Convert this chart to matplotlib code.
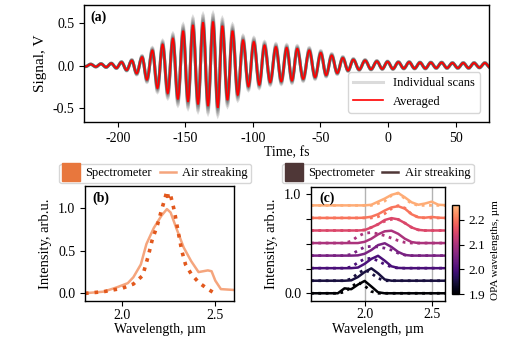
import numpy as np
import matplotlib
matplotlib.use('Agg')
import matplotlib.pyplot as plt
from matplotlib.lines import Line2D
from matplotlib.path import Path
from matplotlib.patches import PathPatch
from matplotlib.colors import ListedColormap, Normalize
from matplotlib.cm import ScalarMappable

plt.rcParams['font.family'] = 'serif'
plt.rcParams['font.serif'] = ['Liberation Serif', 'DejaVu Serif']
plt.rcParams['font.size'] = 10
plt.rcParams['legend.fontsize'] = 9
plt.rcParams['axes.unicode_minus'] = False
plt.rcParams['axes.linewidth'] = 1.0

# ---- (a) scan: extrema of the averaged trace (time fs, signal V)
ext_t = [-227.6, -223.8, -220.0, -216.2, -212.4, -208.6, -204.8, -201.0, -197.2, -193.4,
         -189.6, -186.0, -182.0, -178.4, -174.4, -170.6, -166.8, -163.0, -159.2, -155.5,
         -151.6, -148.0, -144.4, -140.6, -136.9, -133.2, -129.5, -126.0, -122.6, -118.8,
         -115.1, -111.2, -107.3, -103.3, -99.3, -95.3, -91.4, -87.2, -83.0, -79.0,
         -75.0, -71.1, -67.2, -62.8, -58.3, -54.0, -49.8, -45.8, -41.7, -37.6,
         -33.5, -29.6, -25.7, -21.4, -17.0, -12.6, -8.3, -4.3, -0.4, 3.6,
         7.6, 11.6, 15.6, 19.6, 23.6, 27.6, 31.6, 35.6, 39.6, 43.6,
         47.6, 51.6, 55.6, 59.6, 63.6, 67.6, 71.6, 75.6, 79.6]
ext_v = [0.01, -0.012, 0.015, -0.015, 0.02, -0.02, 0.025, -0.03, 0.04, -0.055,
         0.06, -0.095, 0.10, -0.17, 0.18, -0.27, 0.25, -0.33, 0.32, -0.40,
         0.41, -0.43, 0.48, -0.46, 0.51, -0.48, 0.52, -0.50, 0.47, -0.41,
         0.41, -0.35, 0.30, -0.25, 0.28, -0.23, 0.24, -0.20, 0.22, -0.19,
         0.21, -0.18, 0.20, -0.16, 0.18, -0.14, 0.15, -0.115, 0.12, -0.09,
         0.09, -0.06, 0.07, -0.05, 0.06, -0.045, 0.05, -0.04, 0.045, -0.04,
         0.04, -0.035, 0.04, -0.035, 0.035, -0.035, 0.035, -0.03, 0.035, -0.03,
         0.03, -0.03, 0.03, -0.03, 0.03, -0.025, 0.03, -0.025, 0.025]
# spread of the individual scans relative to the average
scan_gain = [0.82, 0.88, 0.93, 0.97, 1.0, 1.03, 1.07, 1.12, 1.18]

# ---- (b) spectra
spec_wl = [1.80, 1.85, 1.90, 1.95, 2.00, 2.06, 2.11, 2.14, 2.16, 2.19, 2.21, 2.23,
           2.24, 2.25, 2.26, 2.28, 2.30, 2.32, 2.34, 2.37, 2.41, 2.46, 2.49]
spec_val = [0.00, 0.01, 0.02, 0.04, 0.06, 0.11, 0.21, 0.44, 0.62, 0.81, 0.97, 1.12,
            1.20, 1.11, 1.15, 0.97, 0.73, 0.50, 0.34, 0.23, 0.13, 0.05, 0.01]
air_wl = [1.79, 1.90, 1.97, 2.03, 2.06, 2.10, 2.13, 2.17, 2.21, 2.24, 2.26, 2.29,
          2.33, 2.37, 2.41, 2.46, 2.48, 2.50, 2.53, 2.60]
air_val = [0.00, 0.02, 0.07, 0.12, 0.19, 0.34, 0.58, 0.77, 0.91, 0.99, 0.95, 0.77,
           0.54, 0.38, 0.25, 0.27, 0.26, 0.15, 0.05, 0.04]

# ---- (c) OPA tuning, normalised spectra
opa_wl = [1.90, 1.95, 2.00, 2.05, 2.10, 2.15, 2.20, 2.25]
wl_c = [1.60, 1.65, 1.70, 1.75, 1.80, 1.85, 1.90, 1.95, 2.00, 2.05, 2.10,
        2.15, 2.20, 2.25, 2.30, 2.35, 2.40, 2.45, 2.50, 2.55, 2.60]
air_c = [
    [0, 0, 0, 0, 0, 0.40, 0.33, 0.70, 1.00, 0.55, 0.08, 0, 0, 0, 0, 0, 0, 0, 0, 0, 0],
    [0, 0, 0, 0, 0, 0, 0.03, 0.30, 0.70, 1.00, 0.60, 0.10, 0, 0, 0, 0, 0, 0, 0, 0, 0],
    [0, 0, 0, 0, 0, 0, 0, 0.05, 0.35, 0.75, 1.00, 0.60, 0.15, 0.02, 0, 0, 0, 0, 0, 0, 0],
    [0, 0, 0, 0, 0, 0, 0, 0.02, 0.15, 0.45, 0.85, 1.00, 0.70, 0.30, 0.05, 0, 0, 0, 0, 0, 0],
    [0, 0, 0, 0, 0, 0, 0, 0, 0.10, 0.35, 0.70, 0.95, 1.00, 0.75, 0.35, 0.08, 0, 0, 0, 0, 0],
    [0, 0, 0, 0, 0, 0, 0, 0, 0.03, 0.25, 0.50, 0.85, 1.00, 0.90, 0.60, 0.25, 0.05, 0, 0, 0, 0],
    [0, 0, 0, 0, 0, 0, 0, 0, 0.02, 0.10, 0.30, 0.60, 0.85, 0.95, 0.75, 0.30, 0.05, 0.02, 0.08, 0.02, 0],
    [0, 0, 0, 0, 0, 0, 0, 0, 0, 0.05, 0.30, 0.55, 0.85, 1.00, 0.65, 0.25, 0.05, 0.15, 0.30, 0.05, 0.02],
]
spec_c = [
    [0, 0, 0, 0, 0, 0.10, 0.50, 0.90, 0.60, 0.15, 0, 0, 0, 0, 0, 0, 0, 0, 0, 0, 0],
    [0, 0, 0, 0, 0, 0, 0.15, 0.60, 0.90, 0.60, 0.20, 0, 0, 0, 0, 0, 0, 0, 0, 0, 0],
    [0, 0, 0, 0, 0, 0, 0.10, 0.45, 0.75, 0.80, 0.60, 0.30, 0.10, 0, 0, 0, 0, 0, 0, 0, 0],
    [0, 0, 0, 0, 0, 0, 0.10, 0.40, 0.70, 0.75, 0.70, 0.60, 0.45, 0.20, 0.05, 0, 0, 0, 0, 0, 0],
    [0, 0, 0, 0, 0, 0, 0.15, 0.55, 0.80, 0.85, 0.75, 0.60, 0.40, 0.20, 0.05, 0, 0, 0, 0, 0, 0],
    [0, 0, 0, 0, 0, 0, 0, 0, 0.05, 0.25, 0.50, 0.75, 0.90, 0.90, 0.60, 0.25, 0.05, 0, 0, 0, 0],
    [0, 0, 0, 0, 0, 0, 0, 0, 0, 0, 0.10, 0.35, 0.75, 1.00, 0.80, 0.30, 0.05, 0, 0, 0, 0],
    [0, 0, 0, 0, 0, 0, 0, 0, 0, 0, 0.15, 0.35, 0.80, 1.00, 0.55, 0.15, 0, 0, 0, 0, 0],
]


def smooth_trace(t, v):
    # cubic Bezier through the extrema, flat at each extremum
    verts = [(t[0], v[0])]
    codes = [Path.MOVETO]
    for i in range(len(t) - 1):
        dt = t[i + 1] - t[i]
        verts += [(t[i] + 0.36 * dt, v[i]), (t[i + 1] - 0.36 * dt, v[i + 1]),
                  (t[i + 1], v[i + 1])]
        codes += [Path.CURVE4] * 3
    return Path(verts, codes)


fig = plt.figure(figsize=(5.28, 3.39), dpi=100)

# ================= (a)
ax_a = fig.add_axes([0.159, 0.640, 0.768, 0.346])
avg = np.array(ext_v)
for g in scan_gain:
    ax_a.add_patch(PathPatch(smooth_trace(ext_t, avg * g), fill=False,
                             edgecolor='0.3', alpha=0.2, lw=2.2))
ax_a.add_patch(PathPatch(smooth_trace(ext_t, avg), fill=False, edgecolor='red', lw=1.2))
ax_a.set_xlim(-225, 75)
ax_a.set_ylim(-0.67, 0.72)
ax_a.set_xticks([-200, -150, -100, -50, 0, 50])
ax_a.set_yticks([-0.5, 0.0, 0.5])
ax_a.set_xlabel('Time, fs', labelpad=1)
ax_a.set_ylabel('Signal, V', fontsize=11)
ax_a.text(0.017, 0.95, '(a)', transform=ax_a.transAxes, va='top', fontweight='bold')
ha = [Line2D([], [], color='0.3', alpha=0.2, lw=2.2), Line2D([], [], color='red', lw=1.2)]
ax_a.legend(ha, ['Individual scans', 'Averaged'], loc='lower right',
            borderaxespad=0.75, handlelength=2.4)

# ================= (b)
ax_b = fig.add_axes([0.161, 0.112, 0.282, 0.339])
c_patch = '#e8773d'
ax_b.plot(air_wl, air_val, color='#f5a57d', lw=1.8)
ax_b.plot(spec_wl, spec_val, color='#e2581d', lw=2.6, ls=':')
ax_b.set_xlim(1.8, 2.6)
ax_b.set_ylim(-0.09, 1.26)
ax_b.set_xticks([2.0, 2.5])
ax_b.set_yticks([0.0, 0.5, 1.0])
ax_b.tick_params(axis='x', pad=2)
ax_b.set_xlabel('Wavelength, µm', labelpad=1)
ax_b.set_ylabel('Intensity, arb.u.', fontsize=10.5)
ax_b.text(0.047, 0.95, '(b)', transform=ax_b.transAxes, va='top', fontweight='bold')
hb = [Line2D([], [], marker='s', ms=13, ls='none', color=c_patch),
      Line2D([], [], color='#f5a57d', lw=1.8)]
ax_b.legend(hb, ['Spectrometer', 'Air streaking'], ncol=2, loc='lower center',
            bbox_to_anchor=(0.473, 1.026), borderaxespad=0, handlelength=1.3,
            handletextpad=0.5, columnspacing=0.6, borderpad=0.3)

# ================= (c)
ax_c = fig.add_axes([0.589, 0.113, 0.254, 0.336])
cmap = ListedColormap(plt.get_cmap('magma')(np.linspace(0, 0.85, 256)))
norm = Normalize(vmin=1.9, vmax=2.26)
step = 0.127
for i in range(len(opa_wl)):
    col = cmap(norm(opa_wl[i]))
    ax_c.plot(wl_c, np.array(air_c[i]) * 0.125 + i * step, color=col, lw=1.8)
    ax_c.plot(wl_c, np.array(spec_c[i]) * 0.125 + i * step, color=col, lw=2.0, ls=':')
ax_c.set_xlim(1.6, 2.6)
ax_c.set_ylim(-0.075, 1.077)
ax_c.set_xticks([2.0, 2.5])
ax_c.set_yticks([0.0, 0.25, 0.5, 0.75, 1.0])
ax_c.set_yticklabels(['0.0', '', '', '', '1.0'])
ax_c.tick_params(axis='x', pad=2)
ax_c.grid(axis='x', color='0.7', lw=1.0)
ax_c.set_axisbelow(True)
ax_c.set_xlabel('Wavelength, µm', labelpad=1)
ax_c.set_ylabel('Intensity, arb.u.', fontsize=10.5)
ax_c.text(0.065, 0.96, '(c)', transform=ax_c.transAxes, va='top', fontweight='bold')
c_dark = '#4f3737'
hc = [Line2D([], [], marker='s', ms=13, ls='none', color=c_dark),
      Line2D([], [], color=c_dark, lw=1.8)]
ax_c.legend(hc, ['Spectrometer', 'Air streaking'], ncol=2, loc='lower center',
            bbox_to_anchor=(0.499, 1.033), borderaxespad=0, handlelength=1.3,
            handletextpad=0.5, columnspacing=0.6, borderpad=0.3)

cax = fig.add_axes([0.857, 0.132, 0.012, 0.263])
cb = fig.colorbar(ScalarMappable(norm=norm, cmap=cmap), cax=cax)
cb.set_ticks([1.9, 2.0, 2.1, 2.2])
cb.ax.tick_params(labelsize=9.5)
cb.set_label('OPA wavelengths, µm', fontsize=8)

fig.savefig('out.png', dpi=100)
